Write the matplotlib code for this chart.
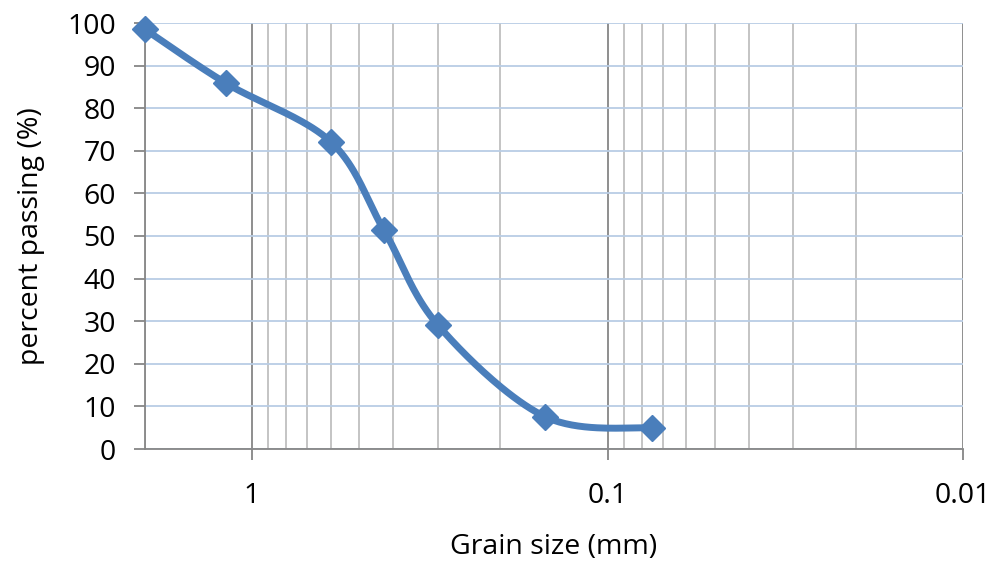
import numpy as np
import matplotlib
matplotlib.use("Agg")
import matplotlib.pyplot as plt
from matplotlib.ticker import FixedLocator, NullFormatter

plt.rcParams['font.family'] = ['Open Sans', 'DejaVu Sans']

# sieve sizes (mm) and percent passing
grain_size = [2.0, 1.18, 0.6, 0.425, 0.3, 0.15, 0.075]
passing = [98.5, 85.8, 72.1, 51.3, 29.1, 7.6, 4.9]

line_col = '#4a7ebb'


def smooth(xs, ys, n=40):
    # Catmull-Rom through the points, like Excel's smoothed line
    px = np.log10(np.array(xs))
    py = np.array(ys, dtype=float)
    px = np.concatenate([[px[0]], px, [px[-1]]])
    py = np.concatenate([[py[0]], py, [py[-1]]])
    outx, outy = [], []
    for i in range(1, len(px) - 2):
        t = np.linspace(0, 1, n)
        for arr, out in ((px, outx), (py, outy)):
            p0, p1, p2, p3 = arr[i - 1], arr[i], arr[i + 1], arr[i + 2]
            c1 = p1 + (p2 - p0) / 6
            c2 = p2 - (p3 - p1) / 6
            out.extend((1 - t)**3 * p1 + 3 * (1 - t)**2 * t * c1 + 3 * (1 - t) * t**2 * c2 + t**3 * p2)
    return 10**np.array(outx), np.array(outy)


fig = plt.figure(figsize=(10, 5.67), dpi=100)
ax = fig.add_axes([0.145, 1 - 449 / 567, 0.818, (449 - 23) / 567])

ax.set_xscale('log')
ax.set_xlim(2.0, 0.01)
ax.set_ylim(0, 100)

ax.xaxis.set_major_locator(FixedLocator([1, 0.1, 0.01]))
ax.xaxis.set_minor_locator(FixedLocator([k * 10.0**e for e in (-1, -2) for k in range(2, 10)] + [2.0]))
ax.xaxis.set_minor_formatter(NullFormatter())
ax.set_xticklabels(['1', '0.1', '0.01'])
ax.set_yticks(range(0, 101, 10))

ax.grid(True, which='major', axis='x', color='#868686', lw=1.3)
ax.grid(True, which='minor', axis='x', color='#bfbfbf', lw=1.3)
ax.grid(True, which='major', axis='y', color='#b9cde5', lw=1.3)
ax.set_axisbelow(True)

for s in ('top', 'right'):
    ax.spines[s].set_visible(False)
for s in ('left', 'bottom'):
    ax.spines[s].set_color('#868686')
    ax.spines[s].set_linewidth(1.3)

ax.tick_params(axis='both', which='major', length=8, width=1.3, color='#868686',
               labelsize=20.5)
ax.tick_params(axis='y', which='major', pad=13)
ax.tick_params(axis='x', which='minor', length=0)
ax.tick_params(axis='x', which='major', pad=16)

sx, sy = smooth(grain_size, passing)
ax.plot(sx, sy, color=line_col, lw=5, solid_capstyle='round', zorder=3, clip_on=False)
ax.plot(grain_size, passing, 'D', color=line_col, ms=13, zorder=4, clip_on=False)

ax.set_xlabel('Grain size (mm)', fontsize=20.5, labelpad=16)
ax.set_ylabel('percent passing (%)', fontsize=20.5, labelpad=16)

fig.savefig('out.png', dpi=100)
